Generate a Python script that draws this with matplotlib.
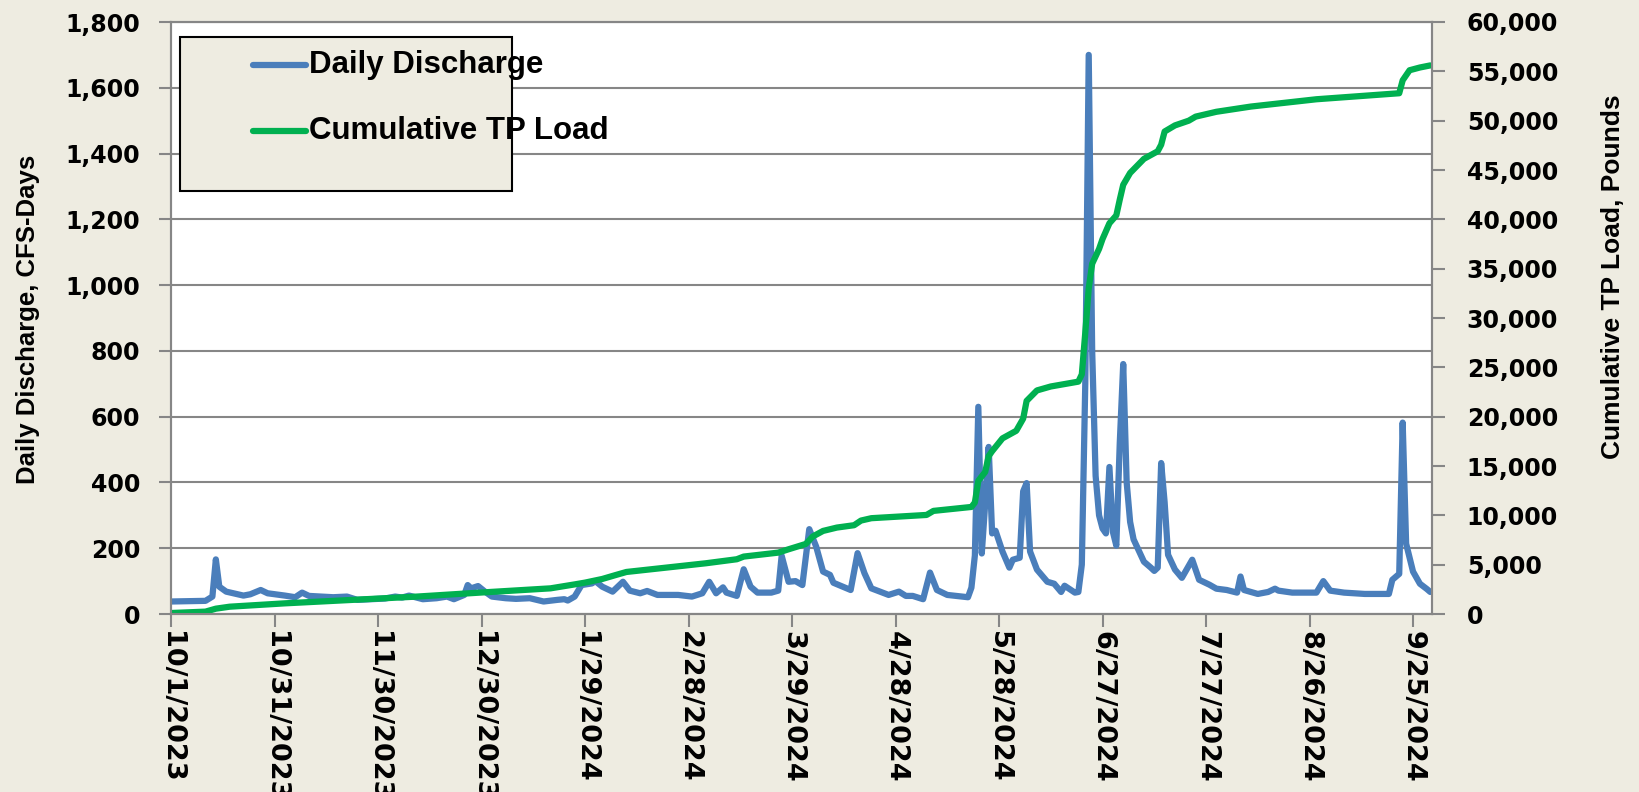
import datetime as dt
import matplotlib
matplotlib.use("Agg")
import matplotlib.pyplot as plt
from matplotlib.patches import Rectangle
from matplotlib.lines import Line2D
from matplotlib.ticker import FuncFormatter, MultipleLocator, FixedLocator

# dias desde 10/1/2023 y valores
start = dt.date(2023, 10, 1)

q_days = [0, 10, 12, 13, 14, 16, 21, 23, 26, 28, 33, 36, 38, 40, 47, 51, 54, 62, 65, 67,
          69, 73, 77, 80, 82, 85, 86, 87, 89, 91, 93, 97, 100, 104, 108, 112, 114, 115, 117, 119,
          122, 123, 125, 128, 131, 133, 136, 138, 141, 147, 151, 154, 156, 158, 160, 161, 164, 166, 168, 170,
          174, 176, 177, 179, 181, 183, 185, 187, 189, 191, 192, 197, 199, 201, 203, 208, 211, 213, 215, 218,
          220, 222, 225, 231, 232, 233, 234, 235, 236, 237, 238, 239, 241, 243, 244, 246, 247, 248, 249, 251,
          254, 256, 258, 259, 262, 263, 264, 265, 266, 267, 268, 269, 270, 271, 272, 273, 274, 275, 276, 277,
          278, 279, 282, 284, 285, 286, 287, 288, 289, 291, 293, 296, 298, 301, 303, 306, 309, 310, 311, 315,
          318, 320, 321, 325, 332, 334, 336, 340, 346, 353, 354, 356, 357, 358, 360, 362, 364, 365]
q_cfs = [38, 40, 53, 166, 83, 68, 56, 60, 73, 63, 56, 51, 65, 55, 51, 53, 43, 47, 53, 50,
         56, 45, 48, 53, 45, 58, 88, 78, 85, 68, 53, 48, 46, 48, 38, 43, 45, 41, 53, 88,
         93, 100, 83, 68, 98, 71, 63, 70, 58, 58, 53, 63, 98, 63, 81, 65, 55, 136, 83, 65,
         65, 71, 177, 98, 100, 88, 258, 205, 129, 119, 95, 73, 185, 124, 78, 58, 68, 55, 55, 45,
         126, 73, 58, 51, 80, 178, 630, 184, 337, 508, 245, 253, 190, 141, 165, 171, 373, 398, 190, 135,
         98, 92, 67, 86, 65, 67, 150, 700, 1700, 800, 420, 300, 260, 245, 447, 250, 208, 520, 760, 400,
         280, 227, 159, 141, 131, 141, 459, 340, 180, 135, 110, 165, 104, 89, 77, 73, 65, 114, 73, 61,
         67, 77, 71, 65, 65, 100, 71, 65, 61, 61, 104, 122, 582, 214, 129, 92, 76, 67]

tp_days = [0, 10, 13, 17, 33, 52, 71, 91, 110, 117, 120, 125, 129, 132, 155, 164, 166, 176, 179, 184,
           186, 189, 193, 198, 200, 203, 219, 221, 232, 233, 234, 236, 237, 238, 241, 245, 247, 248, 251, 255,
           263, 264, 265, 266, 267, 269, 270, 272, 273, 274, 275, 276, 278, 282, 286, 287, 288, 291, 295, 297,
           303, 313, 332, 356, 357, 359, 362, 365]
tp_lbs = [100, 240, 540, 740, 1080, 1420, 1760, 2200, 2600, 3000, 3180, 3550, 3960, 4260, 5140, 5550, 5820, 6220, 6560, 7100,
          7850, 8420, 8760, 9000, 9470, 9710, 10040, 10450, 10850, 11300, 13500, 14400, 16000, 16500, 17800, 18570, 19800, 21600, 22660, 23060,
          23550, 24290, 28500, 33000, 35500, 37000, 38000, 39600, 40000, 40400, 42000, 43500, 44700, 46130, 46900, 47560, 48900, 49520, 50000, 50410,
          50900, 51430, 52170, 52780, 54090, 55110, 55390, 55600]

tick_days = list(range(0, 361, 30))

fondo = '#EEECE1'
gris = '#868686'
azul = '#4A7EBB'
verde = '#00B050'
fuente = 'Liberation Sans'

W, H = 1639, 792
fig = plt.figure(figsize=(W / 100, H / 100), dpi=100, facecolor=fondo)

# area del grafico (en pixeles de la imagen original)
x0, x1, y0, y1 = 171, 1432, 22, 614
ax = fig.add_axes([x0 / W, 1 - y1 / H, (x1 - x0) / W, (y1 - y0) / H])
ax.set_facecolor('white')
ax2 = ax.twinx()

ax.plot(q_days, q_cfs, color=azul, lw=4.5, solid_joinstyle='round', solid_capstyle='round')
ax2.plot(tp_days, tp_lbs, color=verde, lw=4.5, solid_joinstyle='round', solid_capstyle='round')

ax.set_xlim(0, 365.5)
ax.set_ylim(0, 1800)
ax2.set_ylim(0, 60000)

ax.yaxis.set_major_locator(MultipleLocator(200))
ax2.yaxis.set_major_locator(MultipleLocator(5000))
ax.xaxis.set_major_locator(FixedLocator(tick_days))

miles = FuncFormatter(lambda v, p: f"{int(v):,}")
ax.yaxis.set_major_formatter(miles)
ax2.yaxis.set_major_formatter(miles)


def fecha(v, p):
    d = start + dt.timedelta(days=int(round(v)))
    return f"{d.month}/{d.day}/{d.year}"


ax.xaxis.set_major_formatter(FuncFormatter(fecha))

ax.yaxis.grid(True, color=gris, lw=1.5)
ax.set_axisbelow(True)

for a in (ax, ax2):
    for s in a.spines.values():
        s.set_color(gris)
        s.set_linewidth(1.5)
    a.tick_params(direction='out', length=9, width=1.5, color=gris, labelcolor='black')

ax.tick_params(axis='y', pad=13)
ax2.tick_params(axis='y', pad=16)
ax.tick_params(axis='x', pad=3)
for lbl in ax.get_yticklabels() + ax2.get_yticklabels():
    lbl.set_fontweight('bold')
    lbl.set_fontsize(17)
    lbl.set_family('DejaVu Sans')
for lbl in ax.get_xticklabels():
    lbl.set_fontweight('bold')
    lbl.set_fontsize(19.5)
    lbl.set_family('DejaVu Sans')
    lbl.set_rotation(270)
    lbl.set_va('top')
    lbl.set_ha('center')

ax.set_ylabel('Daily Discharge, CFS-Days', fontsize=18.5, fontweight='bold', family=fuente)
ax.yaxis.set_label_coords(-0.104, 0.498)
ax2.set_ylabel('Cumulative TP Load, Pounds', fontsize=19, fontweight='bold', family=fuente,
               rotation=90)
ax2.yaxis.set_label_coords(1.134, 0.569)

# leyenda dibujada a mano como en Excel
def px(x, y):
    return x / W, 1 - y / H

bx, by = px(180, 191)
fig.patches.append(Rectangle((bx, by), 332 / W, 154 / H, transform=fig.transFigure,
                             facecolor=fondo, edgecolor='black', lw=1.5, zorder=5))
for yy, color, texto in [(65, azul, 'Daily Discharge'), (131, verde, 'Cumulative TP Load')]:
    xa, ya = px(253, yy)
    xb, _ = px(306, yy)
    fig.lines.append(Line2D([xa, xb], [ya, ya], transform=fig.transFigure, color=color,
                            lw=4.5, solid_capstyle='round', zorder=6))
    xt, _ = px(309, yy)
    fig.text(xt, ya, texto, fontsize=22.5, fontweight='bold', family=fuente,
             va='center', ha='left', zorder=6)

fig.savefig('out.png', dpi=100, facecolor=fondo)
